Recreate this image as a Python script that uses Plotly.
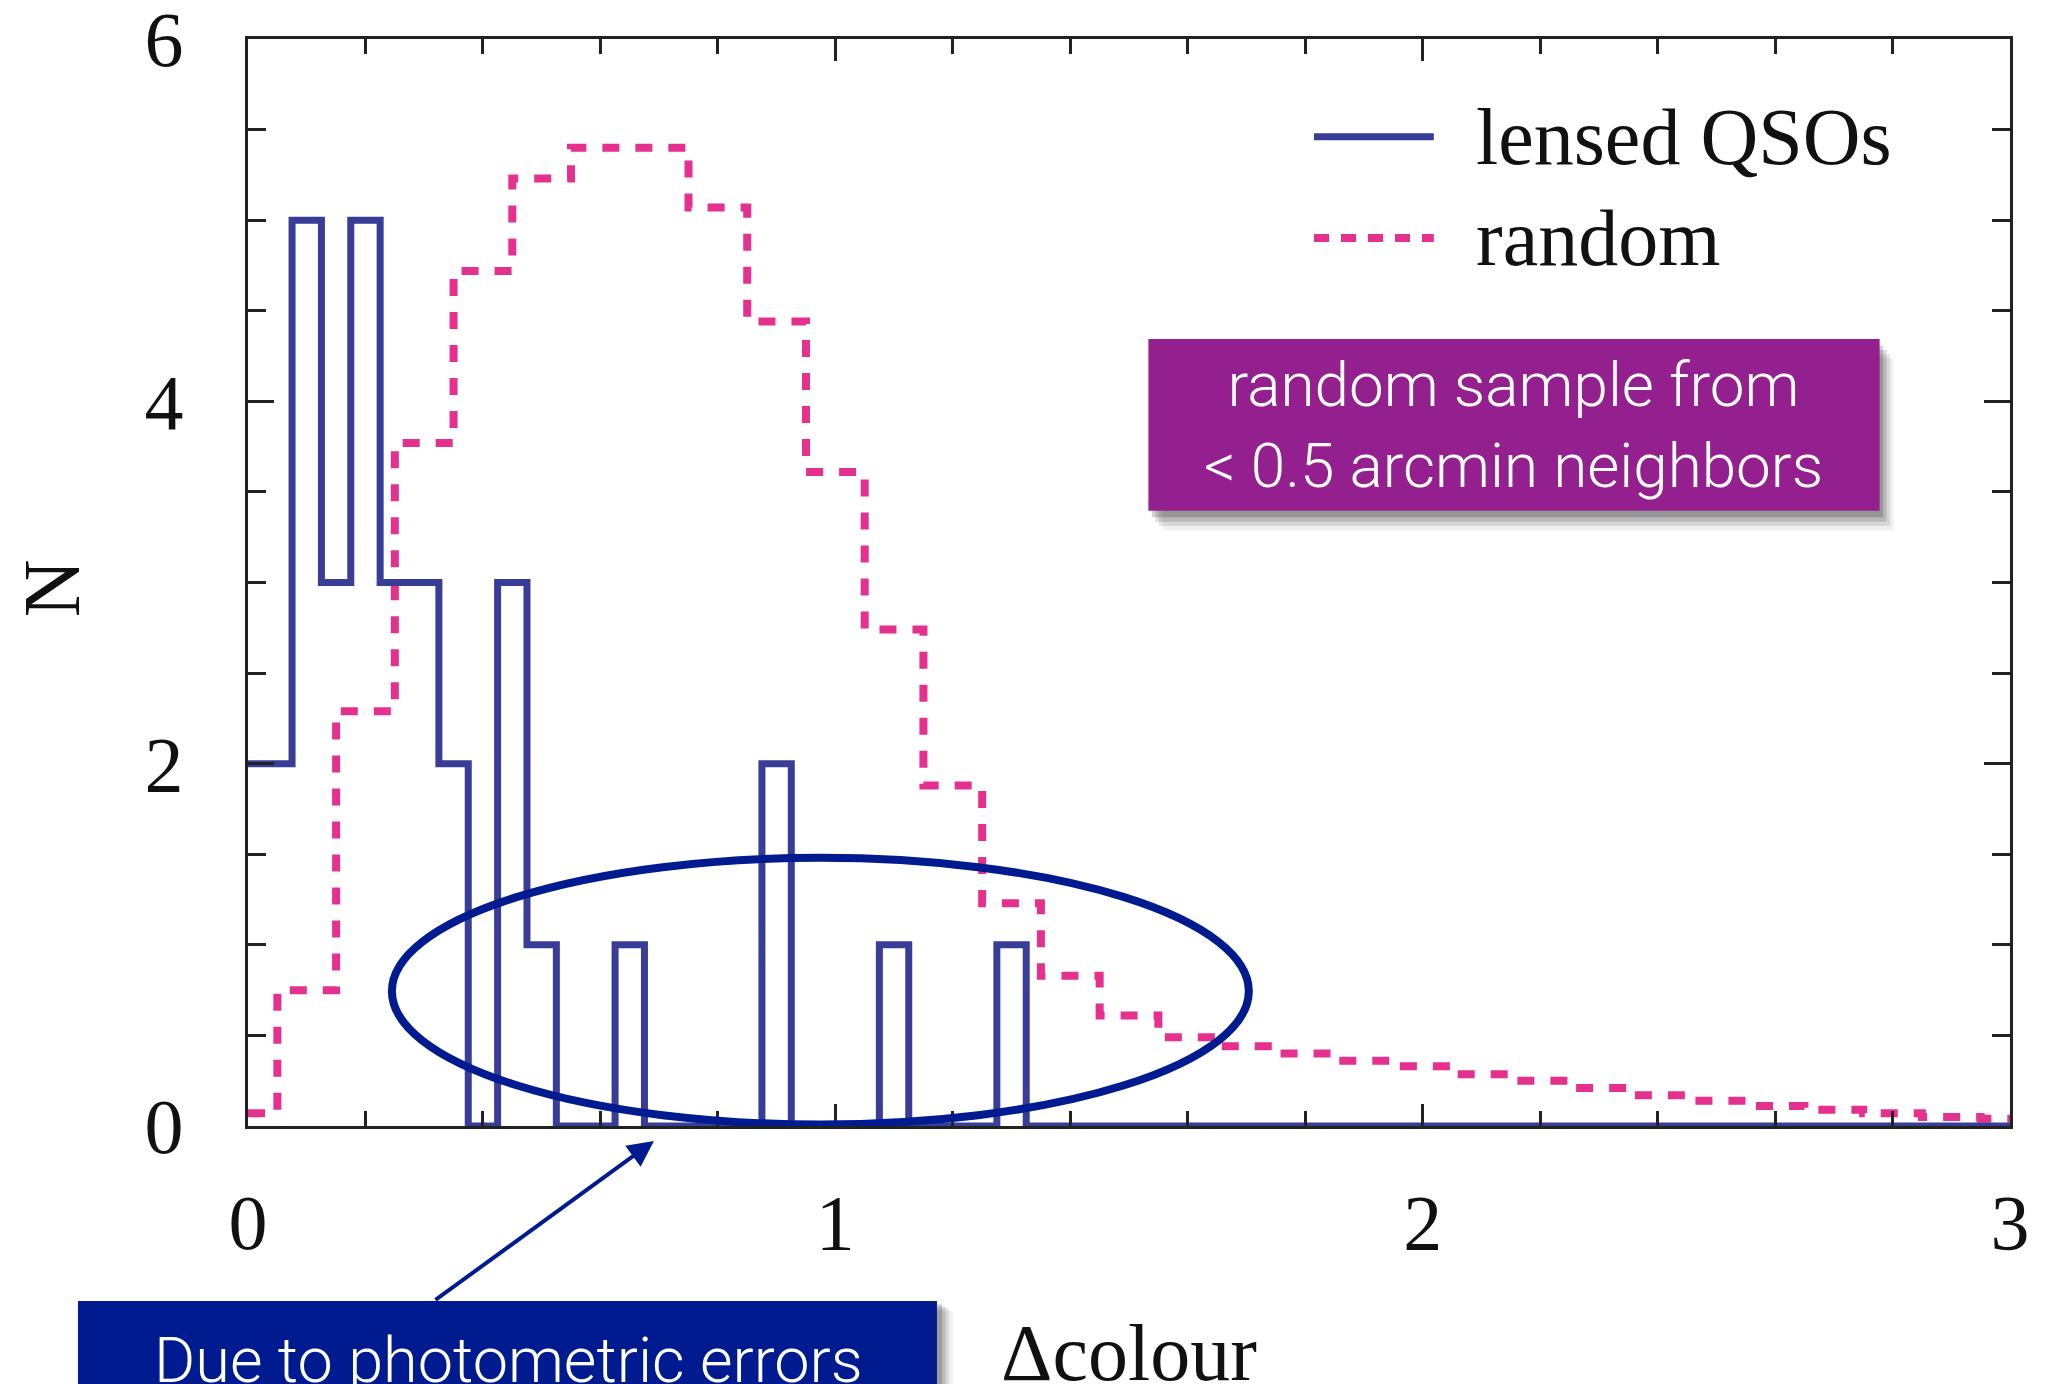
import numpy as np
import plotly.graph_objects as go

# ---------------- data ----------------
# lensed QSOs: histogram, bin width 0.05, bins centred on multiples of 0.05
qso_bin_width = 0.05
qso_centres = [0.00, 0.05, 0.10, 0.15, 0.20, 0.25, 0.30, 0.35, 0.40, 0.45,
               0.50, 0.55, 0.60, 0.65, 0.70, 0.75, 0.80, 0.85, 0.90, 0.95,
               1.00, 1.05, 1.10, 1.15, 1.20, 1.25, 1.30]
qso_counts = [2, 2, 5, 3, 5, 3, 3, 2, 0, 3,
              1, 0, 0, 1, 0, 0, 0, 0, 2, 0,
              0, 0, 1, 0, 0, 0, 1]

# random sample: normalised histogram, bin width 0.1
rnd_bin_width = 0.1
rnd_centres = [0.0, 0.1, 0.2, 0.3, 0.4, 0.5, 0.6, 0.7, 0.8, 0.9,
               1.0, 1.1, 1.2, 1.3, 1.4, 1.5, 1.6, 1.7, 1.8, 1.9,
               2.0, 2.1, 2.2, 2.3, 2.4, 2.5, 2.6, 2.7, 2.8, 2.9, 3.0]
rnd_counts = [0.07, 0.75, 2.29, 3.77, 4.72, 5.23, 5.40, 5.40, 5.07, 4.44,
              3.61, 2.74, 1.88, 1.23, 0.83, 0.61, 0.49, 0.44, 0.40, 0.36,
              0.33, 0.285, 0.25, 0.21, 0.17, 0.14, 0.11, 0.09, 0.07, 0.05, 0.04]

x_range = [0, 3]
y_range = [0, 6]
x_ticks = [0, 1, 2, 3]
y_ticks = [0, 2, 4, 6]

series_names = ["lensed QSOs", "random"]
x_label = "Δcolour"
y_label = "N"
box1_text = "random sample from<br>< 0.5 arcmin neighbors"
box2_text = "Due to photometric errors"

# highlighted region (ellipse) in data units
ell_x = [0.245, 1.704]
ell_y = [0.008, 1.48]

BLUE = "#383d98"
PINK = "#e5308d"
NAVY = "#001b90"
PURPLE = "#93208e"
FRAME = "#222222"


def step_xy(centres, counts, width, lo, hi):
    c = np.asarray(centres, float)
    left = np.clip(c - width / 2, lo, hi)
    right = np.clip(c + width / 2, lo, hi)
    xs = list(left) + [right[-1]]
    ys = list(counts) + [counts[-1]]
    return xs, ys


qx, qy = step_xy(qso_centres, qso_counts, qso_bin_width, *x_range)
# baseline continues to the end of the axis
qx = qx + [x_range[1]]
qy = qy[:-1] + [0, 0]
rx, ry = step_xy(rnd_centres, rnd_counts, rnd_bin_width, *x_range)

fig = go.Figure()
fig.add_trace(go.Scatter(x=rx, y=ry, mode="lines", line_shape="hv", name=series_names[1],
                         line=dict(color=PINK, width=8, dash="17px,16px")))
fig.add_trace(go.Scatter(x=qx, y=qy, mode="lines", line_shape="hv", name=series_names[0],
                         line=dict(color=BLUE, width=7)))

serif = "Liberation Serif, Times New Roman, serif"
sans = "Roboto, Helvetica Neue, Liberation Sans, sans-serif"

axis_common = dict(
    showline=True, linewidth=3, linecolor=FRAME, mirror="ticks",
    ticks="inside", tickwidth=3, tickcolor=FRAME, automargin=False,
    showgrid=False, zeroline=False, ticklabeloverflow="allow",
    tickfont=dict(family=serif, size=78, color="#111111"),
)
fig.update_xaxes(range=x_range, tickvals=x_ticks, ticklen=22, ticklabelstandoff=26,
                 minor=dict(dtick=0.2, ticks="inside", ticklen=15, tickwidth=3,
                            tickcolor=FRAME, showgrid=False),
                 **axis_common)
fig.update_yaxes(range=y_range, tickvals=y_ticks, ticklen=26, ticklabelstandoff=46,
                 minor=dict(dtick=0.5, ticks="inside", ticklen=18, tickwidth=3,
                            tickcolor=FRAME, showgrid=False),
                 **axis_common)

shapes = []
# ellipse
shapes.append(dict(type="circle", xref="x", yref="y", x0=ell_x[0], x1=ell_x[1],
                   y0=ell_y[0], y1=ell_y[1], line=dict(color=NAVY, width=8), layer="above"))

# legend samples
shapes.append(dict(type="line", xref="paper", yref="paper", x0=0.605, x1=0.673, y0=0.910, y1=0.910,
                   line=dict(color=BLUE, width=7)))
shapes.append(dict(type="line", xref="paper", yref="paper", x0=0.605, x1=0.673, y0=0.817, y1=0.817,
                   line=dict(color=PINK, width=8, dash="15px,12px")))

# purple box with shadow
for dx, dy, op in [(0.002, -0.006, 0.18), (0.004, -0.010, 0.14), (0.006, -0.014, 0.10),
                   (0.008, -0.018, 0.06)]:
    shapes.append(dict(type="rect", xref="paper", yref="paper",
                       x0=0.511 + dx, x1=0.926 + dx, y0=0.566 + dy, y1=0.724 + dy,
                       line=dict(width=0), fillcolor=f"rgba(0,0,0,{op})"))
shapes.append(dict(type="rect", xref="paper", yref="paper", x0=0.511, x1=0.926, y0=0.566, y1=0.724,
                   line=dict(width=0), fillcolor=PURPLE))

# navy box with shadow
for dx, op in [(0.003, 0.18), (0.005, 0.13), (0.007, 0.09), (0.009, 0.05)]:
    shapes.append(dict(type="rect", xref="paper", yref="paper",
                       x0=-0.0965 + dx, x1=0.391 + dx, y0=-0.30, y1=-0.161 - dx,
                       line=dict(width=0), fillcolor=f"rgba(0,0,0,{op})"))
shapes.append(dict(type="rect", xref="paper", yref="paper", x0=-0.0965, x1=0.391, y0=-0.30, y1=-0.161,
                   line=dict(width=0), fillcolor=NAVY))

fig.update_layout(shapes=shapes)

ann = []
ann.append(dict(xref="paper", yref="paper", x=0.696, y=0.910, xanchor="left", yanchor="middle",
                text=series_names[0], showarrow=False, font=dict(family=serif, size=80, color="#111111")))
ann.append(dict(xref="paper", yref="paper", x=0.696, y=0.817, xanchor="left", yanchor="middle",
                text=series_names[1], showarrow=False, font=dict(family=serif, size=80, color="#111111")))
ann.append(dict(xref="paper", yref="paper", x=0.5, y=-0.209, xanchor="center", yanchor="middle",
                text=x_label, showarrow=False, font=dict(family=serif, size=80, color="#111111")))
ann.append(dict(xref="paper", yref="paper", x=-0.111, y=0.495, xanchor="center", yanchor="middle",
                text=y_label, textangle=-90, showarrow=False,
                font=dict(family=serif, size=80, color="#111111")))
ann.append(dict(xref="paper", yref="paper", x=0.7185, y=0.645, xanchor="center", yanchor="middle",
                text=box1_text, showarrow=False,
                font=dict(family=sans, size=62, color="white", weight=300)))
ann.append(dict(xref="paper", yref="paper", x=0.1476, y=-0.180, xanchor="center", yanchor="top",
                text=box2_text, showarrow=False,
                font=dict(family=sans, size=63, color="white", weight=300)))
# arrow
ann.append(dict(xref="paper", yref="paper", x=0.2304, y=-0.0138, ax=-220, ay=160,
                axref="pixel", ayref="pixel", text="", showarrow=True,
                arrowhead=2, arrowsize=1.3, arrowwidth=4, arrowcolor=NAVY))

fig.update_layout(annotations=ann, width=2050, height=1384,
                  margin=dict(l=248, r=40, t=39, b=258, autoexpand=False),
                  plot_bgcolor="white", paper_bgcolor="white", showlegend=False)

fig.write_html("out.html")
